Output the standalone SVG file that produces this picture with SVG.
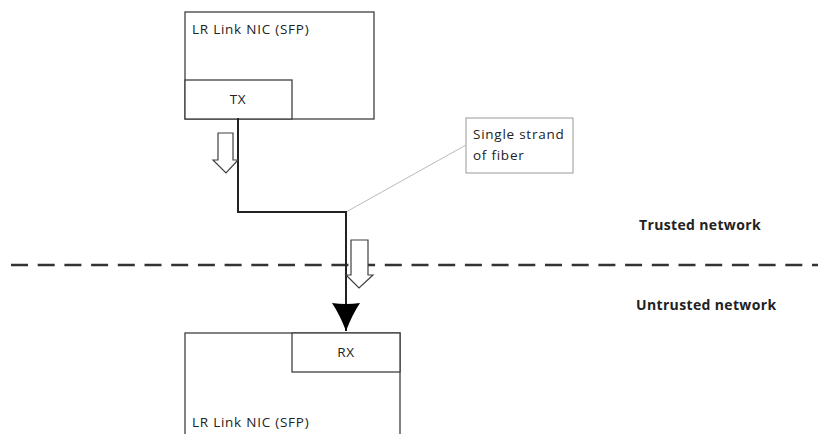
<svg xmlns="http://www.w3.org/2000/svg" width="818" height="434" viewBox="0 0 818 434">
<style>
.box{fill:#fff;stroke:#404040;stroke-width:1.3}
.t{font-family:"Open Sans","Liberation Sans",Arial,sans-serif;font-size:13.5px;letter-spacing:0.75px;fill:#222}
.b{font-weight:bold;font-size:14px;letter-spacing:0.35px}
.hollow{fill:#fff;stroke:#404040;stroke-width:1.2}
</style>
<defs>
<marker id="ah" markerUnits="userSpaceOnUse" markerWidth="30" markerHeight="30" refX="28" refY="14" orient="auto">
<path d="M0,0 Q12,8 28,14 Q12,20 0,28 Q2,14 0,0 Z" fill="#000"/>
</marker>
</defs>
<rect width="818" height="434" fill="#fff"/>
<g id="tx-nic">
<rect class="box" x="185" y="12" width="189" height="107"/>
<text class="t" x="192" y="34">LR Link NIC (SFP)</text>
</g>
<g id="tx">
<rect class="box" x="185" y="80" width="107" height="39"/>
<text class="t" x="238" y="104" text-anchor="middle">TX</text>
</g>
<g id="rx-nic">
<rect class="box" x="185" y="333" width="215" height="120"/>
<text class="t" x="192" y="427">LR Link NIC (SFP)</text>
</g>
<g id="rx">
<rect class="box" x="292" y="333" width="108" height="39"/>
<text class="t" x="346" y="357" text-anchor="middle">RX</text>
</g>
<g id="callout">
<rect x="466" y="118" width="107" height="55" fill="#fff" stroke="#999" stroke-width="1"/>
<text class="t" x="473" y="139">Single strand</text>
<text class="t" x="473" y="160">of fiber</text>
</g>
<g id="trusted"><text class="t b" x="639" y="230">Trusted network</text></g>
<g id="untrusted"><text class="t b" x="636" y="310">Untrusted network</text></g>
<g id="connectors">
<line x1="11" y1="265" x2="818" y2="265" stroke="#333" stroke-width="2.5" stroke-dasharray="17 9.7"/>
<line x1="346" y1="212" x2="466" y2="145" stroke="#bbb" stroke-width="1"/>
<path d="M238,118 V212 H346 V331" fill="none" stroke="#222" stroke-width="2" marker-end="url(#ah)"/>
<path class="hollow" d="M218,133 H233 V160 H238 L226,173 L213,160 H218 Z"/>
<path class="hollow" d="M351,240 H368 V275 H373 L359,288 L346,275 H351 Z"/>
</g>
</svg>
